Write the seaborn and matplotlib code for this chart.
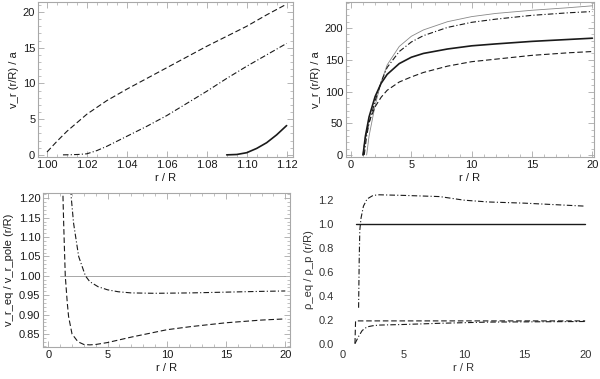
import numpy as np
import pandas as pd
import matplotlib
matplotlib.use("Agg")
import matplotlib.pyplot as plt
from matplotlib.ticker import MultipleLocator, FormatStrFormatter
import seaborn as sns

sns.set_style("white")
plt.rcParams['font.family'] = ['Liberation Sans', 'DejaVu Sans']

# ---------------- data ----------------
# Panel 1 (near-surface radial velocity)
p1_r_dash = [1.000, 1.005, 1.010, 1.020, 1.030, 1.040, 1.050, 1.060, 1.070, 1.080, 1.090, 1.100, 1.110, 1.120]
p1_v_dash = [0.4, 1.9, 3.3, 5.7, 7.6, 9.2, 10.7, 12.2, 13.7, 15.2, 16.6, 18.0, 19.6, 21.1]
p1_r_dd = [1.008, 1.012, 1.016, 1.020, 1.025, 1.030, 1.035, 1.040, 1.050, 1.060, 1.070, 1.080, 1.090, 1.100, 1.110, 1.120]
p1_v_dd = [0.0, 0.02, 0.06, 0.15, 0.6, 1.2, 1.9, 2.6, 4.0, 5.5, 7.2, 8.9, 10.7, 12.4, 14.0, 15.6]
p1_r_solid = [1.090, 1.095, 1.100, 1.105, 1.110, 1.115, 1.120]
p1_v_solid = [0.0, 0.05, 0.3, 0.9, 1.7, 2.8, 4.1]

# Panel 2 (full radial velocity)
p2_r = [1.0, 1.2, 1.5, 2.0, 2.5, 3.0, 4.0, 5.0, 6.0, 8.0, 10.0, 12.0, 15.0, 18.0, 20.0]
p2_v_solid = [0, 30, 60, 92, 113, 127, 144, 154, 160, 167, 172, 175, 179, 182, 184]
p2_v_dash = [0, 28, 52, 76, 91, 102, 115, 123, 130, 140, 147, 151, 157, 161, 163]
p2_r_dd = [1.1, 1.3, 1.5, 2.0, 2.5, 3.0, 4.0, 5.0, 6.0, 8.0, 10.0, 12.0, 15.0, 18.0, 20.0]
p2_v_dd = [0, 30, 50, 85, 115, 138, 163, 178, 188, 201, 209, 214, 220, 224, 226]
p2_r_gray = [1.3, 1.5, 2.0, 2.5, 3.0, 4.0, 5.0, 6.0, 8.0, 10.0, 12.0, 15.0, 18.0, 20.0]
p2_v_gray = [0, 30, 78, 115, 142, 171, 187, 197, 210, 218, 223, 228, 232, 235]

# Panel 3 (velocity ratio equator / pole)
p3_r_gray = [1.0, 20.0]
p3_v_gray = [1.0, 1.0]
p3_r_dash = [1.15, 1.24, 1.3, 1.43, 1.6, 1.71, 2.0, 2.5, 3.0, 3.5, 4.0, 5.0, 7.0, 10.0, 12.0, 15.0, 18.0, 20.0]
p3_v_dash = [1.40, 1.2, 1.13, 1.0, 0.93, 0.895, 0.85, 0.83, 0.823, 0.822, 0.823, 0.828, 0.842, 0.861, 0.869, 0.879, 0.886, 0.889]
p3_r_dd = [1.8, 1.94, 2.13, 2.56, 3.13, 3.5, 4.2, 5.0, 5.9, 7.0, 9.0, 12.0, 15.0, 18.0, 20.0]
p3_v_dd = [1.28, 1.2, 1.136, 1.05, 1.0, 0.985, 0.972, 0.964, 0.959, 0.956, 0.955, 0.956, 0.958, 0.960, 0.961]

# Panel 4 (density ratio equator / pole)
p4_r_solid = [1.05, 20.0]
p4_v_solid = [1.0, 1.0]
p4_r_upper = [1.3, 1.35, 1.4, 1.5, 1.7, 2.0, 2.5, 3.0, 5.0, 8.0, 10.0, 12.0, 15.0, 18.0, 20.0]
p4_v_upper = [0.3, 0.7, 0.95, 1.05, 1.15, 1.21, 1.24, 1.245, 1.24, 1.23, 1.2, 1.185, 1.175, 1.16, 1.15]
p4_r_flat = [1.0, 1.05, 20.0]
p4_v_flat = [0.0, 0.19, 0.19]
p4_r_lower = [1.0, 1.3, 1.6, 2.0, 2.5, 3.0, 5.0, 8.0, 12.0, 20.0]
p4_v_lower = [0.0, 0.06, 0.11, 0.14, 0.15, 0.155, 0.16, 0.17, 0.18, 0.185]

xlabel = "r / R"
ylabels = ["v_r (r/R) / a", "v_r (r/R) / a", "v_r_eq / v_r_pole (r/R)", "\u03c1_eq / \u03c1_p (r/R)"]

# ---------------- styles ----------------
W, H = 600, 379
fig = plt.figure(figsize=(W / 100, H / 100), dpi=100)

def rect(l, r, t, b):
    return [l / W, 1 - b / H, (r - l) / W, (b - t) / H]

FS = 8
FRAME = "#a8a8a8"
DASH = (0, (5, 2.5))
DASHDOT = (0, (5, 2, 1, 2))
LW = 0.8
INK = "#1a1a1a"


def frame_axes(ax):
    for s in ax.spines.values():
        s.set_color(FRAME)
        s.set_linewidth(0.8)
    ax.tick_params(which="both", direction="in", bottom=True, left=True, top=True, right=True,
                   color=FRAME, labelsize=FS, pad=2, labelcolor=INK)
    ax.tick_params(which="major", length=4, width=0.6)
    ax.tick_params(which="minor", length=2, width=0.5)
    ax.set_xlabel(xlabel, fontsize=FS, labelpad=2, color=INK)


def line(ax, x, y, **kw):
    sns.lineplot(x=x, y=y, ax=ax, estimator=None, sort=False, **kw)

# Panel 1
ax1 = fig.add_axes(rect(38, 293, 2, 157))
line(ax1, p1_r_dash, p1_v_dash, color=INK, lw=LW, linestyle=DASH)
line(ax1, p1_r_dd, p1_v_dd, color=INK, lw=LW, linestyle=DASHDOT)
line(ax1, p1_r_solid, p1_v_solid, color=INK, lw=1.2)
ax1.set_xlim(0.9955, 1.1232)
ax1.set_ylim(-0.3, 21.4)
ax1.xaxis.set_major_locator(MultipleLocator(0.02))
ax1.xaxis.set_minor_locator(MultipleLocator(0.005))
ax1.yaxis.set_major_locator(MultipleLocator(5))
ax1.yaxis.set_minor_locator(MultipleLocator(1))
ax1.xaxis.set_major_formatter(FormatStrFormatter("%.2f"))
frame_axes(ax1)
ax1.set_ylabel(ylabels[0], fontsize=FS, labelpad=3, color=INK)

# Panel 2
ax2 = fig.add_axes(rect(346, 594, 2, 157))
line(ax2, p2_r_gray, p2_v_gray, color="#888888", lw=0.6)
line(ax2, p2_r_dd, p2_v_dd, color=INK, lw=LW, linestyle=DASHDOT)
line(ax2, p2_r, p2_v_solid, color=INK, lw=1.2)
line(ax2, p2_r, p2_v_dash, color=INK, lw=LW, linestyle=DASH)
ax2.set_xlim(-0.41, 20.13)
ax2.set_ylim(-3.1, 241)
ax2.xaxis.set_major_locator(MultipleLocator(5))
ax2.xaxis.set_minor_locator(MultipleLocator(1))
ax2.yaxis.set_major_locator(MultipleLocator(50))
ax2.yaxis.set_minor_locator(MultipleLocator(10))
frame_axes(ax2)
ax2.set_ylabel(ylabels[1], fontsize=FS, labelpad=3, color=INK)

# Panel 3
ax3 = fig.add_axes(rect(43, 290, 193, 347))
line(ax3, p3_r_gray, p3_v_gray, color="#999999", lw=0.6)
line(ax3, p3_r_dd, p3_v_dd, color=INK, lw=LW, linestyle=DASHDOT)
line(ax3, p3_r_dash, p3_v_dash, color=INK, lw=LW, linestyle=DASH)
ax3.set_xlim(-0.45, 20.4)
ax3.set_ylim(0.8165, 1.2137)
ax3.xaxis.set_major_locator(MultipleLocator(5))
ax3.xaxis.set_minor_locator(MultipleLocator(1))
ax3.yaxis.set_major_locator(MultipleLocator(0.05))
ax3.yaxis.set_minor_locator(MultipleLocator(0.01))
ax3.yaxis.set_major_formatter(FormatStrFormatter("%.2f"))
frame_axes(ax3)
ax3.set_ylabel(ylabels[2], fontsize=FS, labelpad=3, color=INK)

# Panel 4 (frameless)
ax4 = fig.add_axes(rect(338, 590, 193, 346))
line(ax4, p4_r_solid, p4_v_solid, color=INK, lw=1.0)
line(ax4, p4_r_upper, p4_v_upper, color=INK, lw=LW, linestyle=DASHDOT)
line(ax4, p4_r_flat, p4_v_flat, color=INK, lw=LW, linestyle=DASH)
line(ax4, p4_r_lower, p4_v_lower, color=INK, lw=LW, linestyle=DASHDOT)
ax4.set_xlim(-0.4, 20.4)
ax4.set_ylim(-0.02, 1.26)
for s in ax4.spines.values():
    s.set_visible(False)
ax4.xaxis.set_major_locator(MultipleLocator(5))
ax4.yaxis.set_major_locator(MultipleLocator(0.2))
ax4.yaxis.set_major_formatter(FormatStrFormatter("%.1f"))
ax4.tick_params(axis="both", length=0, labelsize=FS, pad=3, labelcolor="#333333")
ax4.set_xlabel(xlabel, fontsize=FS, labelpad=2, color="#333333")
ax4.set_ylabel(ylabels[3], fontsize=FS, labelpad=3, color="#333333")

fig.savefig("out.png", dpi=100)
